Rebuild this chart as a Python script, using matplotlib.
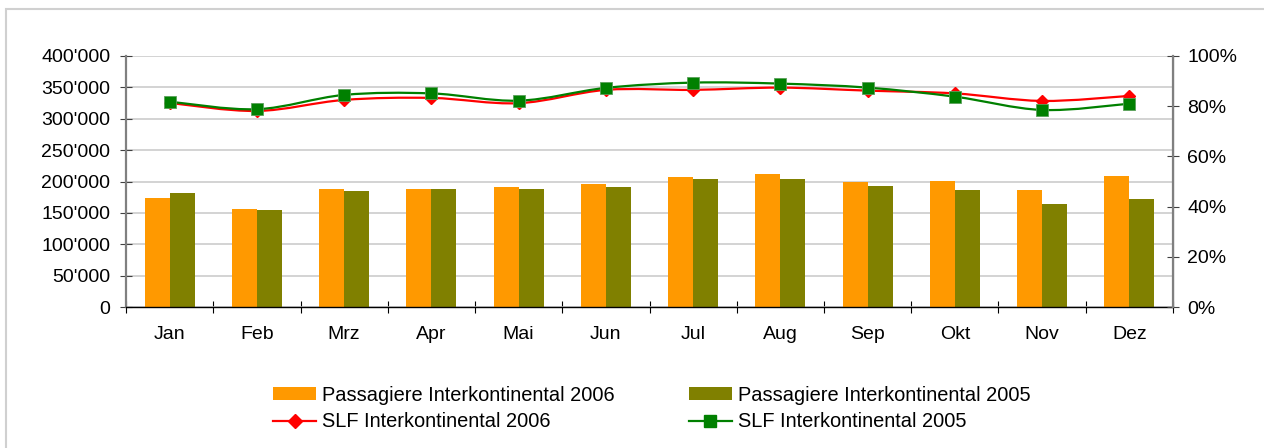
import numpy as np
import matplotlib
matplotlib.use("Agg")
import matplotlib.pyplot as plt
from matplotlib.path import Path
from matplotlib.patches import PathPatch, Rectangle, Patch
from matplotlib.lines import Line2D
from matplotlib.ticker import FuncFormatter, PercentFormatter

plt.rcParams['font.family'] = ['Liberation Sans', 'DejaVu Sans']

# Data
months = ['Jan', 'Feb', 'Mrz', 'Apr', 'Mai', 'Jun', 'Jul', 'Aug', 'Sep', 'Okt', 'Nov', 'Dez']
pax_2006 = [173000, 156000, 188000, 188000, 191000, 196000, 207000, 212000, 199000, 201000, 186000, 209000]
pax_2005 = [181000, 155000, 185000, 188000, 188000, 191000, 204000, 204000, 193000, 186000, 164000, 172000]
slf_2006 = [0.813, 0.781, 0.825, 0.833, 0.812, 0.865, 0.865, 0.874, 0.862, 0.851, 0.821, 0.841]
slf_2005 = [0.818, 0.788, 0.845, 0.851, 0.822, 0.873, 0.894, 0.890, 0.874, 0.838, 0.785, 0.810]

c_orange = '#FF9900'
c_olive = '#808000'
c_red = '#FF0000'
c_green = '#008000'
fs = 14


def smooth_path(xs, ys):
    # Excel-like smoothed line: cubic bezier through every point
    pts = np.column_stack([xs, ys])
    n = len(pts)
    verts = [pts[0]]
    codes = [Path.MOVETO]
    for i in range(n - 1):
        p_prev = pts[max(i - 1, 0)]
        p0 = pts[i]
        p1 = pts[i + 1]
        p_next = pts[min(i + 2, n - 1)]
        verts += [p0 + (p1 - p_prev) / 6, p1 - (p_next - p0) / 6, p1]
        codes += [Path.CURVE4] * 3
    return Path(verts, codes)


fig = plt.figure(figsize=(12.64, 4.48), dpi=100)
ax = fig.add_axes([0.0997, 0.3147, 0.8283, 0.5603])
ax2 = ax.twinx()

x = np.arange(len(months))
w = 0.2865
ax.bar(x - w / 2, pax_2006, w, color=c_orange, zorder=2)
ax.bar(x + w / 2, pax_2005, w, color=c_olive, zorder=2)

ax.set_xlim(-0.5, len(months) - 0.5)
ax.set_ylim(0, 400000)
ax.set_yticks(np.arange(0, 400001, 50000))
ax.yaxis.set_major_formatter(FuncFormatter(lambda v, p: f"{int(v):,}".replace(',', "'")))
ax.grid(axis='y', color='#c8c8c8', linewidth=1.1, zorder=0)
ax.set_axisbelow(True)

# category labels centred, ticks on the boundaries
ax.set_xticks(np.arange(-0.5, len(months) + 0.5, 1))
ax.set_xticklabels([])
ax.set_xticks(x, minor=True)
ax.set_xticklabels(months, minor=True)
ax.tick_params(axis='x', which='major', direction='inout', length=8.6, width=0.8, color='black')
ax.tick_params(axis='x', which='minor', length=0, pad=14, labelsize=fs)
ax.tick_params(axis='y', direction='inout', length=8.6, width=0.8, color='#404040', pad=7, labelsize=fs)

ax2.set_ylim(0, 1)
ax2.set_yticks(np.arange(0, 1.01, 0.2))
ax2.yaxis.set_major_formatter(PercentFormatter(1.0, decimals=0))
ax2.tick_params(axis='y', direction='inout', length=8.6, width=0.8, color='#404040', pad=6, labelsize=fs)

ax.spines['top'].set_visible(False)
ax2.spines['top'].set_visible(False)
ax.spines['left'].set_color('#808080')
ax.spines['left'].set_linewidth(1.6)
ax.spines['bottom'].set_color('black')
ax.spines['bottom'].set_linewidth(1.0)
ax2.spines['right'].set_color('#808080')
ax2.spines['right'].set_linewidth(1.6)
ax2.spines['left'].set_visible(False)
ax2.spines['bottom'].set_visible(False)

# smoothed SLF lines
ax2.add_patch(PathPatch(smooth_path(x, slf_2006), facecolor='none', edgecolor=c_red, linewidth=1.6, zorder=3))
ax2.add_patch(PathPatch(smooth_path(x, slf_2005), facecolor='none', edgecolor=c_green, linewidth=1.6, zorder=3))
ax2.plot(x, slf_2006, linestyle='none', marker='D', markersize=6.5, color=c_red, zorder=4)
ax2.plot(x, slf_2005, linestyle='none', marker='s', markersize=9, color=c_green,
         markeredgecolor='#5aa05a', markeredgewidth=0.6, zorder=5)

handles = [
    Patch(facecolor=c_orange, label='Passagiere Interkontinental 2006'),
    Line2D([], [], color=c_red, linewidth=1.6, marker='D', markersize=7, label='SLF Interkontinental 2006'),
    Patch(facecolor=c_olive, label='Passagiere Interkontinental 2005'),
    Line2D([], [], color=c_green, linewidth=1.6, marker='s', markersize=9, label='SLF Interkontinental 2005'),
]
fig.legend(handles=handles, ncol=2, loc='center left', bbox_to_anchor=(263 / 1264, 0.088),
           frameon=False, fontsize=14.4, borderpad=0, handlelength=2.15, handleheight=0.65,
           handletextpad=0.3, columnspacing=3.7, labelspacing=0.38)

# outer chart border
fig.patches.append(Rectangle((6 / 1264, -0.1), 1.2, 1 - 9 / 448 + 0.1, transform=fig.transFigure,
                             fill=False, edgecolor='#d0d0d0', linewidth=1.5))

fig.savefig('out.png', dpi=100)
